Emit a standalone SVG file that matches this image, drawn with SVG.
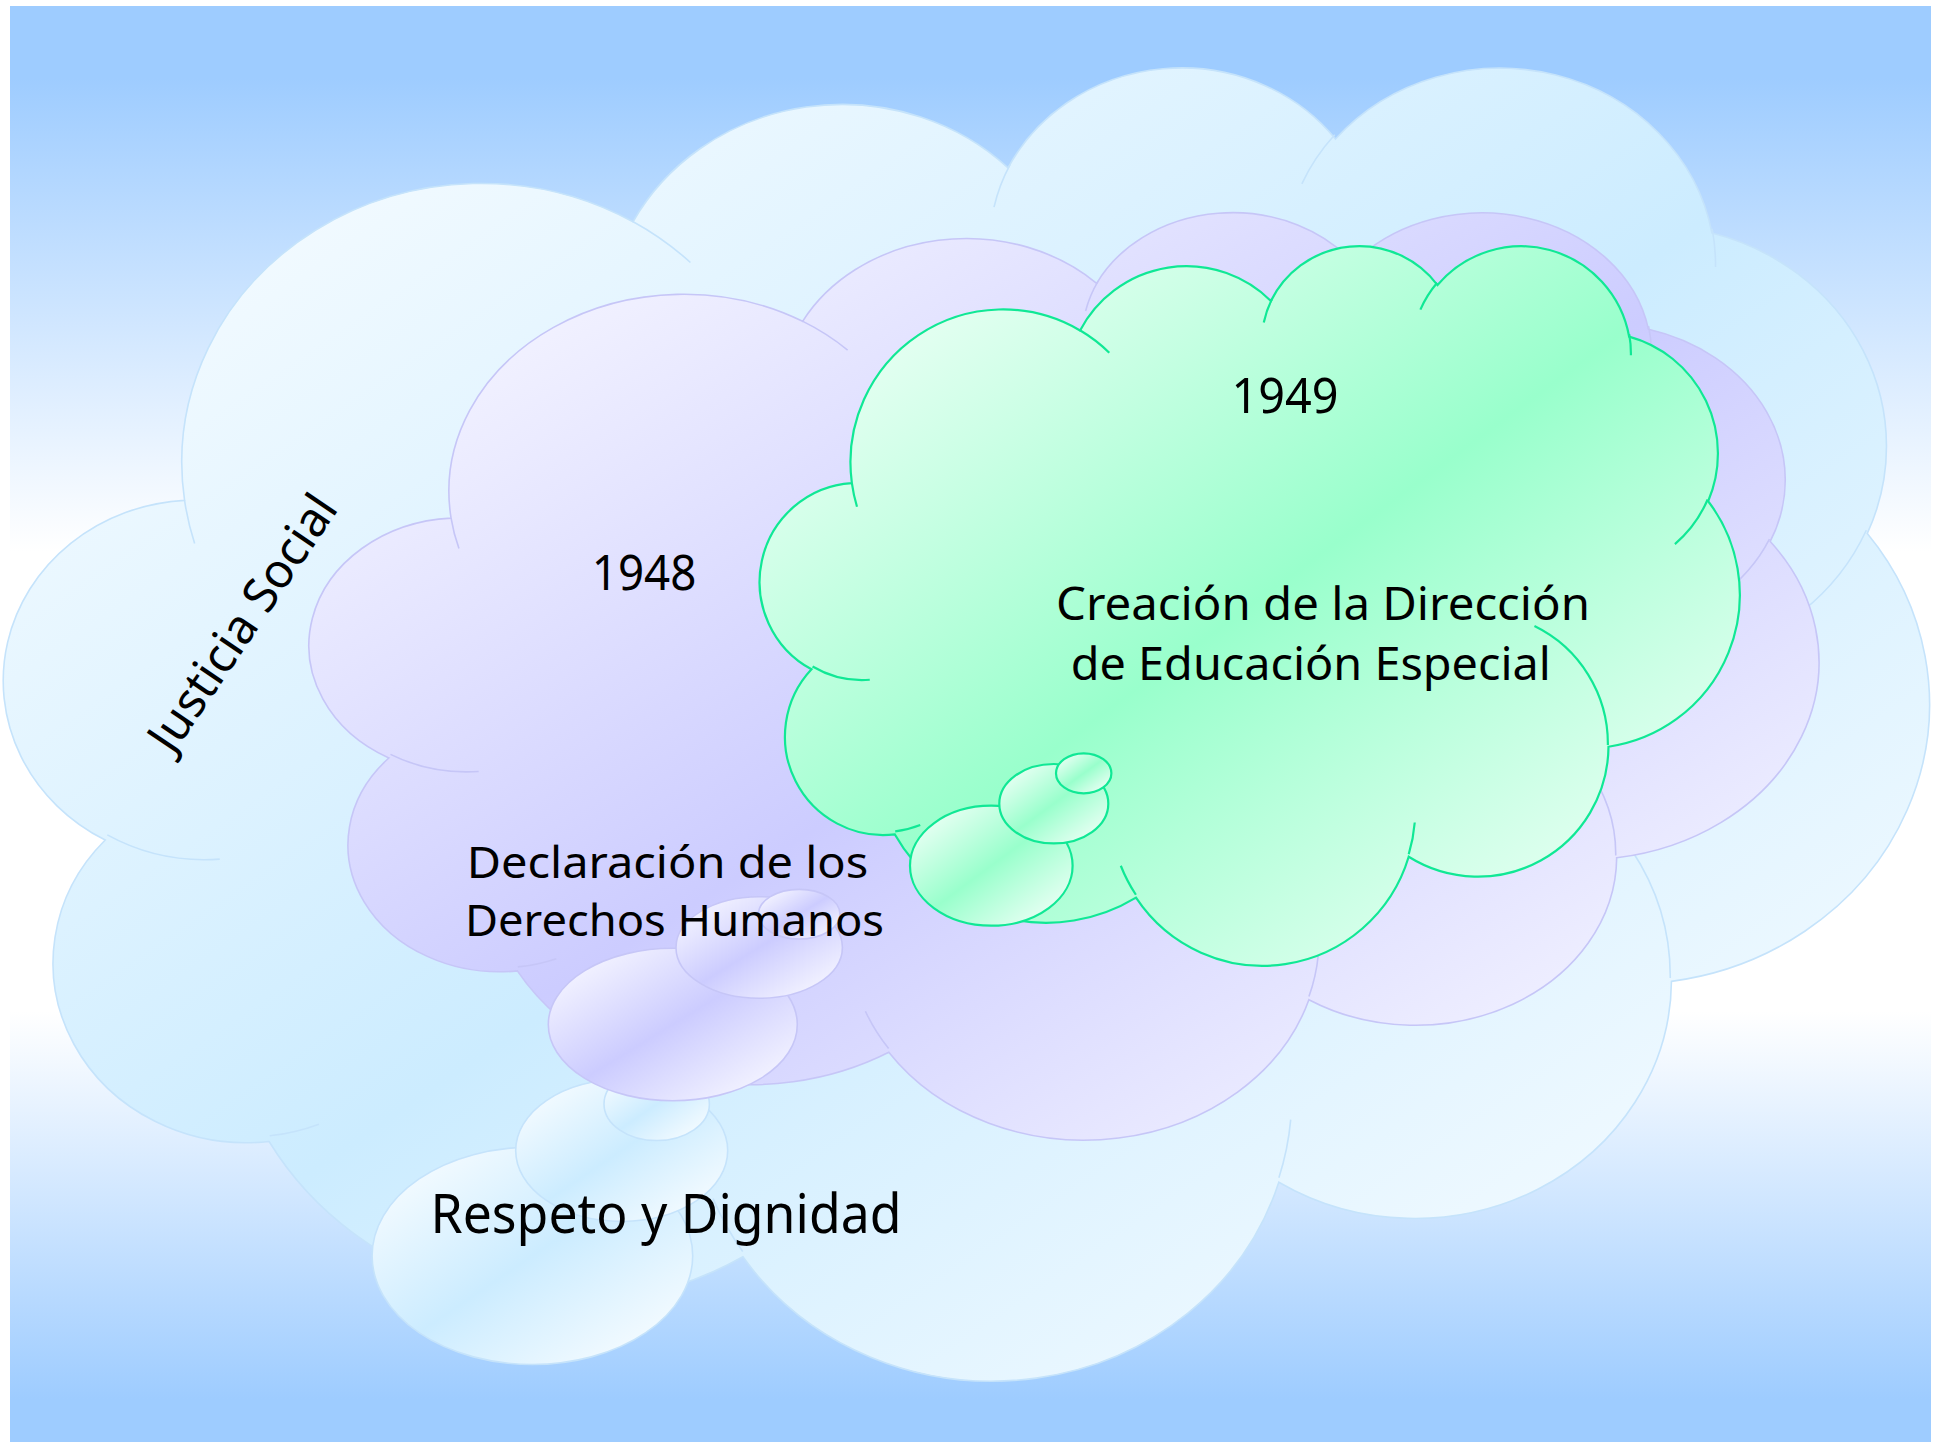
<svg xmlns="http://www.w3.org/2000/svg" xmlns:xlink="http://www.w3.org/1999/xlink" width="1939" height="1442" viewBox="0 0 1939 1442">
<style>
.t{font-family:"Noto Sans","DejaVu Sans",sans-serif;fill:#000;text-anchor:middle}
.blue{stroke:#C5E3FB;stroke-width:1.6}
.purple{stroke:#C6C6F7;stroke-width:1.6}
.green{stroke:#10E895;stroke-width:2.2}
</style>
<defs>
<linearGradient id="bg" x1="0" y1="0" x2="0" y2="1">
<stop offset="0" stop-color="#9ECCFF"/><stop offset="0.05" stop-color="#9ECCFF"/><stop offset="0.38" stop-color="#FFFFFF"/><stop offset="0.7" stop-color="#FFFFFF"/><stop offset="0.97" stop-color="#9ECCFF"/><stop offset="1" stop-color="#9ECCFF"/>
</linearGradient>
<linearGradient id="gBlue" x1="0" y1="0" x2="1" y2="1">
<stop offset="0" stop-color="#FFFFFF"/><stop offset="0.5" stop-color="#CCECFF"/><stop offset="1" stop-color="#FFFFFF"/>
</linearGradient>
<linearGradient id="gPurple" x1="0" y1="0" x2="1" y2="1">
<stop offset="0" stop-color="#FFFFFF"/><stop offset="0.5" stop-color="#CCCCFF"/><stop offset="1" stop-color="#FFFFFF"/>
</linearGradient>
<linearGradient id="gGreen" x1="0" y1="0" x2="1" y2="1">
<stop offset="0" stop-color="#FFFFFF"/><stop offset="0.5" stop-color="#99FFCC"/><stop offset="1" stop-color="#FFFFFF"/>
</linearGradient>
<path id="cloud" vector-effect="non-scaling-stroke" d="M39,143.7 A67.53,91.9 0 0 1 140.06,52.02 A53.33,72.67 0 0 1 224.58,34.31 A43.65,59.45 0 0 1 298.36,24.79 A48.57,65.95 0 0 1 383.21,55.73 A53.33,72.73 0 0 1 418.21,154.58 A67.75,92.2 0 0 1 374.07,302 A57.85,78.67 0 0 1 285.59,368.1 A67.52,92.15 0 0 1 164.83,392.63 A77.2,105.43 0 0 1 58.05,354.69 A43.6,59.18 0 0 1 21.12,255.49 A43.45,59.45 0 0 1 39,143.7 Z"/>
<path id="creases" vector-effect="non-scaling-stroke" fill="none" d="M46.93,261.77 A43.45,59.45 0 0 1 21.59,253.8 M69.28,348.99 A43.6,59.18 0 0 1 58.19,352.81 M164.78,390.9 A67.52,92.15 0 0 1 158.1,373.49 M288.27,347.51 A67.52,92.15 0 0 1 285.61,366.59 M341.29,229.54 A57.85,78.67 0 0 1 373.8,300.9 M417.98,153.54 A53.33,72.73 0 0 1 403.49,180.3 M383.24,54.26 A48.57,65.95 0 0 1 384,66.89 M290.78,39.52 A48.57,65.95 0 0 1 298.19,23.41 M221.41,47.2 A43.65,59.45 0 0 1 225,33.31 M140,51.92 A67.53,91.9 0 0 1 153,65.42 M41.27,157.89 A67.53,91.9 0 0 1 39,143.72"/>
</defs>
<rect x="0" y="0" width="1939" height="1442" fill="#FFFFFF"/>
<rect x="10" y="6" width="1921" height="1436" fill="url(#bg)"/>

<g id="cloud-blue">
<use href="#cloud" transform="translate(11.5,63.7) scale(4.4375,3.0387)" fill="url(#gBlue)" class="blue"/>
<ellipse cx="532.4" cy="1255.8" rx="160.3" ry="108.7" fill="url(#gBlue)" class="blue"/>
<ellipse cx="621.7" cy="1150.5" rx="106" ry="71" fill="url(#gBlue)" class="blue"/>
<ellipse cx="656.7" cy="1104" rx="52.7" ry="36.5" fill="url(#gBlue)" class="blue"/>
<use href="#creases" transform="translate(11.5,63.7) scale(4.4375,3.0387)" class="blue"/>
<text class="t" font-size="48" transform="translate(256,632) rotate(-56)" textLength="298" lengthAdjust="spacingAndGlyphs">Justicia Social</text>
<text class="t" font-size="54" x="666" y="1233.3" textLength="471" lengthAdjust="spacingAndGlyphs">Respeto y Dignidad</text>
</g>

<g id="cloud-purple">
<use href="#cloud" transform="translate(315.4,209.7) scale(3.4787,2.1461)" fill="url(#gPurple)" class="purple"/>
<ellipse cx="672.8" cy="1024.5" rx="124.5" ry="76.2" fill="url(#gPurple)" class="purple"/>
<ellipse cx="759.2" cy="947.5" rx="83.2" ry="50.8" fill="url(#gPurple)" class="purple"/>
<ellipse cx="799.2" cy="914.2" rx="40.8" ry="24.8" fill="url(#gPurple)" class="purple"/>
<use href="#creases" transform="translate(315.4,209.7) scale(3.4787,2.1461)" class="purple"/>
<text class="t" font-size="50" x="644.1" y="589.7" textLength="104.6" lengthAdjust="spacingAndGlyphs">1948</text>
<text class="t" font-size="44"><tspan x="667.5" y="878" textLength="401.6" lengthAdjust="spacingAndGlyphs">Declaración de los</tspan><tspan x="674.5" y="936" textLength="419" lengthAdjust="spacingAndGlyphs">Derechos Humanos</tspan></text>
</g>

<g id="cloud-green">
<use href="#cloud" transform="translate(763.8,243.8) scale(2.2581,1.6653)" fill="url(#gGreen)" class="green"/>
<ellipse cx="991.3" cy="865.7" rx="81.3" ry="60" fill="url(#gGreen)" class="green"/>
<ellipse cx="1053.8" cy="803.7" rx="54.5" ry="39.7" fill="url(#gGreen)" class="green"/>
<ellipse cx="1083.7" cy="773.3" rx="27.7" ry="20" fill="url(#gGreen)" class="green"/>
<use href="#creases" transform="translate(763.8,243.8) scale(2.2581,1.6653)" class="green"/>
<text class="t" font-size="50" x="1284.9" y="413.3" textLength="107" lengthAdjust="spacingAndGlyphs">1949</text>
<text class="t" font-size="46"><tspan x="1323" y="620" textLength="534" lengthAdjust="spacingAndGlyphs">Creación de la Dirección</tspan><tspan x="1310.8" y="680" textLength="480" lengthAdjust="spacingAndGlyphs">de Educación Especial</tspan></text>
</g>
</svg>
